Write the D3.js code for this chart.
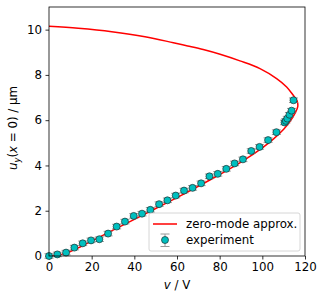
<html>
<head>
<script src="https://d3js.org/d3.v7.min.js"></script>
<style>
body { margin: 0; background: #fff; }
svg text { font-family: "DejaVu Sans", sans-serif; fill: #000; }
.axis path, .axis line { stroke: #000; stroke-width: 0.8; }
</style>
</head>
<body>
<svg width="324" height="300"></svg>
<script>

// experiment
var expV = [0, 3.9, 8.0, 11.9, 15.8, 19.7, 23.6, 27.7, 31.7, 35.6, 39.7, 43.6, 47.5, 51.6, 55.5, 59.4,
            63.3, 67.3, 71.3, 75.2, 79.1, 83.1, 87.0, 90.9, 94.8, 98.7, 102.7, 106.6, 110.4, 111.0,
            111.7, 112.7, 113.7, 114.6];
var expU = [0, 0.07, 0.15, 0.37, 0.56, 0.69, 0.74, 0.99, 1.30, 1.52, 1.77, 1.87, 2.04, 2.29, 2.46, 2.67,
            2.89, 3.01, 3.21, 3.52, 3.63, 3.85, 4.09, 4.27, 4.64, 4.82, 5.12, 5.47, 5.90, 5.97,
            6.07, 6.24, 6.42, 6.88];
var expErr = [0.1, 0.1, 0.1, 0.1, 0.1, 0.1, 0.1, 0.1, 0.1, 0.1, 0.1, 0.1, 0.1, 0.1, 0.1, 0.1,
              0.1, 0.1, 0.1, 0.1, 0.1, 0.1, 0.1, 0.1, 0.1, 0.1, 0.1, 0.1, 0.1, 0.1,
              0.1, 0.1, 0.1, 0.1];

// zero-mode approx. (lower branch then upper branch)
var modelV = [0, 5, 10, 15, 20, 25, 30, 40, 50, 60, 70, 80, 90, 100, 105, 110, 113, 115.3, 116.6,
              116.3, 114.5, 111.4, 106.7, 98.9, 89.5, 80.2, 72.3, 65, 58.3, 45, 29.4, 13.7, 0];
var modelU = [0, 0.05, 0.2, 0.42, 0.66, 0.9, 1.14, 1.62, 2.1, 2.58, 3.08, 3.6, 4.15, 4.78, 5.15, 5.6, 5.95, 6.3, 6.6,
              6.85, 7.1, 7.47, 7.84, 8.28, 8.62, 8.91, 9.12, 9.28, 9.42, 9.69, 9.91, 10.06, 10.15];

var xTicks = [0, 20, 40, 60, 80, 100, 120];
var yTicks = [0, 2, 4, 6, 8, 10];

var svg = d3.select("svg"),
    margin = {top: 7, right: 19, bottom: 44, left: 49},
    width = +svg.attr("width") - margin.left - margin.right,
    height = +svg.attr("height") - margin.top - margin.bottom;

var x = d3.scaleLinear().domain([0, 120]).range([0, width]),
    y = d3.scaleLinear().domain([0, 11]).range([height, 0]);

var g = svg.append("g")
    .attr("transform", "translate(" + margin.left + "," + margin.top + ")");

var fs = "11.8px";

g.append("g")
    .attr("class", "axis")
    .attr("transform", "translate(0," + height + ")")
    .call(d3.axisBottom(x).tickValues(xTicks).tickSize(3.5).tickPadding(3.5).tickSizeOuter(0));
g.append("g")
    .attr("class", "axis")
    .call(d3.axisLeft(y).tickValues(yTicks).tickSize(3.5).tickPadding(3.5).tickSizeOuter(0));
g.selectAll(".axis text").style("font-size", fs).attr("font-family", null);
g.selectAll(".axis .domain").remove();

// model line
var line = d3.line()
    .curve(d3.curveCatmullRom)
    .x(function(d, i) { return x(modelV[i]); })
    .y(function(d, i) { return y(modelU[i]); });

svg.append("defs").append("clipPath").attr("id", "clip")
  .append("rect").attr("width", width).attr("height", height);

g.append("path")
    .datum(modelV)
    .attr("clip-path", "url(#clip)")
    .attr("fill", "none")
    .attr("stroke", "#ff0000")
    .attr("stroke-width", 1.5)
    .attr("d", line);

// error bars
var cap = 4.5;
var eb = g.append("g").attr("stroke", "#808080").attr("stroke-width", 1).attr("opacity", 0.8);
expV.forEach(function(v, i) {
  var cx = x(v), lo = y(expU[i] - expErr[i]), hi = y(expU[i] + expErr[i]);
  eb.append("line").attr("x1", cx).attr("x2", cx).attr("y1", lo).attr("y2", hi);
  eb.append("line").attr("x1", cx - cap).attr("x2", cx + cap).attr("y1", lo).attr("y2", lo);
  eb.append("line").attr("x1", cx - cap).attr("x2", cx + cap).attr("y1", hi).attr("y2", hi);
});

g.selectAll(".pt")
    .data(expV)
  .enter().append("circle")
    .attr("class", "pt")
    .attr("cx", function(d) { return x(d); })
    .attr("cy", function(d, i) { return y(expU[i]); })
    .attr("r", 3.5)
    .attr("fill", "#00bfbf")
    .attr("stroke", "#1e3030")
    .attr("stroke-width", 0.7);

// frame
g.append("rect")
    .attr("width", width)
    .attr("height", height)
    .attr("fill", "none")
    .attr("stroke", "#000")
    .attr("stroke-width", 0.8);

// legend
var lg = g.append("g").attr("transform", "translate(" + (149 - margin.left) + "," + (213 - margin.top) + ")");
lg.append("rect")
    .attr("width", 151).attr("height", 38).attr("rx", 2)
    .attr("fill", "#fff").attr("fill-opacity", 0.8)
    .attr("stroke", "#cccccc").attr("stroke-width", 0.8);
lg.append("line")
    .attr("x1", 4).attr("x2", 28).attr("y1", 11).attr("y2", 11)
    .attr("stroke", "#ff0000").attr("stroke-width", 1.5);
lg.append("text").attr("x", 37).attr("y", 11).attr("dy", "0.36em")
    .style("font-size", fs).text("zero-mode approx.");
var le = lg.append("g").attr("stroke", "#808080").attr("stroke-width", 1).attr("opacity", 0.8);
le.append("line").attr("x1", 16).attr("x2", 16).attr("y1", 21).attr("y2", 33.5);
le.append("line").attr("x1", 16 - cap).attr("x2", 16 + cap).attr("y1", 21).attr("y2", 21);
le.append("line").attr("x1", 16 - cap).attr("x2", 16 + cap).attr("y1", 33.5).attr("y2", 33.5);
lg.append("circle").attr("cx", 16).attr("cy", 27).attr("r", 3.5)
    .attr("fill", "#00bfbf").attr("stroke", "#1e3030").attr("stroke-width", 0.7);
lg.append("text").attr("x", 37).attr("y", 27).attr("dy", "0.36em")
    .style("font-size", fs).text("experiment");

// axis labels
var xl = svg.append("text")
    .attr("x", margin.left + width / 2)
    .attr("y", 289)
    .attr("text-anchor", "middle")
    .style("font-size", fs);
xl.append("tspan").style("font-style", "italic").text("v");
xl.append("tspan").text(" / V");

var yl = svg.append("text")
    .attr("transform", "translate(17,128) rotate(-90)")
    .attr("text-anchor", "middle")
    .style("font-size", fs);
yl.append("tspan").style("font-style", "italic").text("u");
yl.append("tspan").style("font-style", "italic").style("font-size", "8.3px").attr("dy", "2.5").text("y");
yl.append("tspan").attr("dy", "-2.5").text("(");
yl.append("tspan").style("font-style", "italic").text("x");
yl.append("tspan").text(" = 0) / \u03bcm");

</script>
</body>
</html>
